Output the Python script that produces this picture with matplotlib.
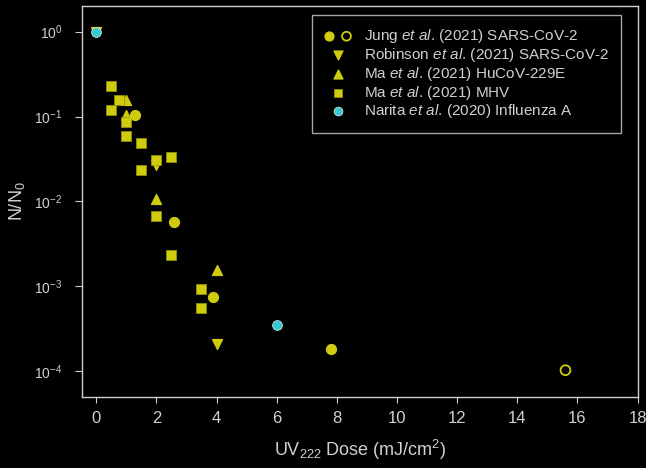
import matplotlib
matplotlib.use("Agg")
import matplotlib.pyplot as plt
from matplotlib.legend_handler import HandlerTuple

plt.rcParams['font.family'] = ['Liberation Sans', 'DejaVu Sans']
plt.rcParams['mathtext.fontset'] = 'custom'
plt.rcParams['mathtext.rm'] = 'Liberation Sans'
plt.rcParams['mathtext.it'] = 'Liberation Sans:italic'

# data
jung_x = [1.3, 2.6, 3.9, 7.8]
jung_y = [0.103, 0.0058, 0.00074, 0.000185]
jung_open_x = [15.6]
jung_open_y = [0.000103]

robinson_x = [0, 2, 4]
robinson_y = [1.0, 0.027, 0.00021]

ma229_x = [1, 1, 2, 4]
ma229_y = [0.156, 0.104, 0.0106, 0.00158]

mamhv_x = [0.5, 0.75, 0.5, 1, 1, 1.5, 2, 2.5, 1.5, 2, 2.5, 3.5, 3.5]
mamhv_y = [0.232, 0.158, 0.119, 0.0857, 0.0587, 0.049, 0.031, 0.0336,
           0.0232, 0.0067, 0.00232, 0.00094, 0.00055]

narita_x = [0, 6]
narita_y = [1.0, 0.00035]

yellow = '#cfcc10'
cyan = '#3cc8cf'
fg = '#d0d0d0'

fig = plt.figure(figsize=(6.46, 4.68), dpi=100, facecolor='black')
ax = fig.add_axes([0.127, 0.152, 0.861, 0.835])
ax.set_facecolor('black')

ms = 50
h_rob = ax.scatter(robinson_x, robinson_y, marker='v', s=ms, color=yellow, zorder=3)
h_ma = ax.scatter(ma229_x, ma229_y, marker='^', s=ms, color=yellow, zorder=3)
h_mhv = ax.scatter(mamhv_x, mamhv_y, marker='s', s=ms, color=yellow,
                   edgecolors='#999900', linewidths=0.5, zorder=3)
h_jung = ax.scatter(jung_x, jung_y, marker='o', s=ms, color=yellow, zorder=4)
h_open = ax.scatter(jung_open_x, jung_open_y, marker='o', s=ms, facecolors='none',
                    edgecolors=yellow, linewidths=1.3, zorder=4)
h_nar = ax.scatter(narita_x, narita_y, marker='o', s=ms, color=cyan,
                   edgecolors='#e0f0f0', linewidths=0.5, zorder=5)

ax.set_yscale('log')
ax.set_ylim(5e-5, 2.0)
ax.set_xlim(-0.47, 18.02)
ax.set_xticks(range(0, 19, 2))

for s in ax.spines.values():
    s.set_color(fg)
    s.set_linewidth(1.0)

ax.tick_params(axis='both', colors=fg, labelcolor=fg, direction='out')
ax.tick_params(axis='x', length=4.5, pad=6, labelsize=12)
ax.tick_params(axis='y', which='major', length=5, pad=9, labelsize=10)
ax.tick_params(axis='y', which='minor', length=3.5)

ax.set_xlabel('UV$_{222}$ Dose (mJ/cm$^2$)', color=fg, fontsize=13, labelpad=8)
ax.set_ylabel('N/N$_0$', color=fg, fontsize=13, labelpad=5)

leg = ax.legend(
    [(h_jung, h_open), h_rob, h_ma, h_mhv, h_nar],
    [r'Jung $\it{et\ al}$. (2021) SARS-CoV-2',
     r'Robinson $\it{et\ al}$. (2021) SARS-CoV-2',
     r'Ma $\it{et\ al}$. (2021) HuCoV-229E',
     r'Ma $\it{et\ al}$. (2021) MHV',
     r'Narita $\it{et\ al}$. (2020) Influenza A'],
    handler_map={tuple: HandlerTuple(ndivide=None, pad=0.5)},
    loc='upper right', bbox_to_anchor=(0.975, 0.985), fontsize=11,
    frameon=True, fancybox=False, facecolor='black', edgecolor=fg,
    labelspacing=0.05, handletextpad=0.8, borderpad=0.8, borderaxespad=0.2,
    handlelength=1.8, markerscale=0.9)
leg.get_frame().set_linewidth(1.0)
for t in leg.get_texts():
    t.set_color(fg)

fig.savefig('out.png', dpi=100, facecolor='black')
